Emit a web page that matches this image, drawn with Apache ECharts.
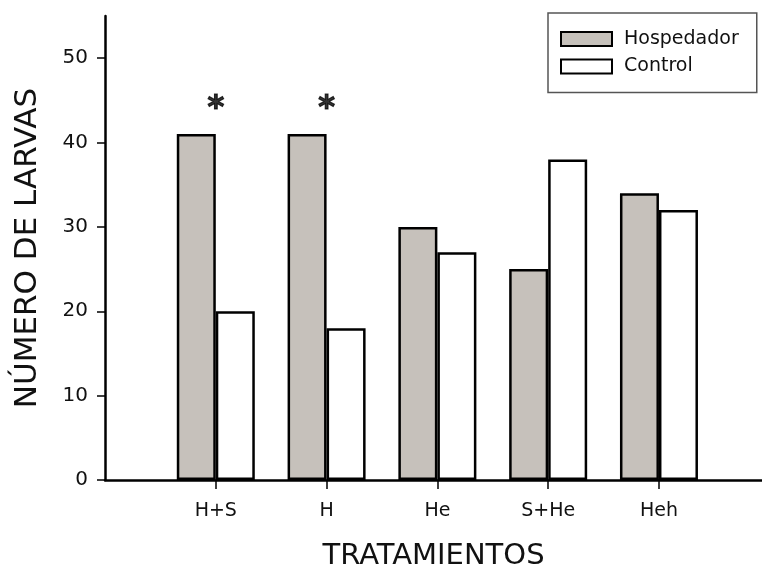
<!DOCTYPE html>
<html>
<head>
<meta charset="utf-8">
<script src="https://cdn.jsdelivr.net/npm/echarts@6/dist/echarts.min.js"></script>
<style>
  html, body { margin: 0; padding: 0; background: #fff; }
  #chart { width: 762px; height: 567px; }
</style>
</head>
<body>
<div id="chart"></div>
<script>
// Treatments and larva counts per treatment
const categories = ['H+S', 'H', 'He', 'S+He', 'Heh'];
const hospedador = [41, 41, 30, 25, 34];
const control = [20, 18, 27, 38, 32];
// Treatments with a significant difference (1-based position), marked with *
const significant = [1, 2];
const yTicks = [0, 10, 20, 30, 40, 50];

const FONT = 'DejaVu Sans';
const positions = categories.map((_, i) => i + 1);

const chart = echarts.init(document.getElementById('chart'), null, { renderer: 'canvas' });

chart.setOption({
  animation: false,
  backgroundColor: '#ffffff',
  textStyle: { fontFamily: FONT, color: '#111' },
  grid: { left: 105, right: 0, top: 16, bottom: 87, containLabel: false, outerBoundsMode: 'none' },
  legend: {
    data: ['Hospedador', 'Control'],
    orient: 'vertical',
    left: 548,
    top: 13,
    padding: [16, 18, 16, 12],
    itemGap: 7.5,
    itemWidth: 51,
    itemHeight: 14,
    borderColor: '#555',
    borderWidth: 1.5,
    icon: 'rect',
    textStyle: { fontFamily: FONT, fontSize: 19, color: '#111', lineHeight: 20, padding: [0, 0, 0, 7] }
  },
  xAxis: {
    type: 'value',
    min: 0,
    max: 5.93,
    interval: 1,
    name: 'TRATAMIENTOS',
    nameLocation: 'middle',
    nameGap: 62,
    nameTextStyle: { fontFamily: FONT, fontSize: 29, color: '#111' },
    splitLine: { show: false },
    axisLine: { show: true, lineStyle: { color: '#000', width: 2.5 } },
    axisTick: { show: true, length: 9, customValues: positions, lineStyle: { color: '#000', width: 1.5 } },
    axisLabel: {
      customValues: positions,
      margin: 22,
      fontFamily: FONT,
      fontSize: 19,
      color: '#111',
      formatter: v => categories[Math.round(v) - 1] || ''
    }
  },
  yAxis: {
    type: 'value',
    min: 0,
    max: 55,
    interval: 10,
    name: 'NÚMERO DE LARVAS',
    nameLocation: 'middle',
    nameGap: 62,
    nameTextStyle: { fontFamily: FONT, fontSize: 31, color: '#111' },
    splitLine: { show: false },
    axisLine: { show: true, lineStyle: { color: '#000', width: 2.5 } },
    axisTick: { show: true, length: 8, customValues: yTicks, lineStyle: { color: '#000', width: 1.5 } },
    axisLabel: { customValues: yTicks, margin: 17, fontFamily: FONT, fontSize: 20, color: '#111' }
  },
  series: [
    {
      name: 'Hospedador',
      type: 'bar',
      data: positions.map((x, i) => [x, hospedador[i]]),
      barWidth: 39,
      barGap: '0%',
      itemStyle: { color: '#c6c1bb', borderColor: '#000', borderWidth: 2.5 }
    },
    {
      name: 'Control',
      type: 'bar',
      data: positions.map((x, i) => [x, control[i]]),
      barWidth: 39,
      barGap: '0%',
      itemStyle: { color: '#ffffff', borderColor: '#000', borderWidth: 2.5 }
    },
    {
      name: 'sig',
      type: 'scatter',
      symbolSize: 0,
      silent: true,
      data: significant.map(x => [x, Math.max(hospedador[x - 1], control[x - 1]) + 3.0]),
      label: {
        show: true,
        position: 'inside',
        formatter: '*',
        fontFamily: FONT,
        fontWeight: 'bold',
        fontSize: 32,
        color: '#000',
        textBorderColor: '#000',
        textBorderWidth: 1.2,
        verticalAlign: 'middle'
      }
    }
  ]
});
</script>
</body>
</html>
